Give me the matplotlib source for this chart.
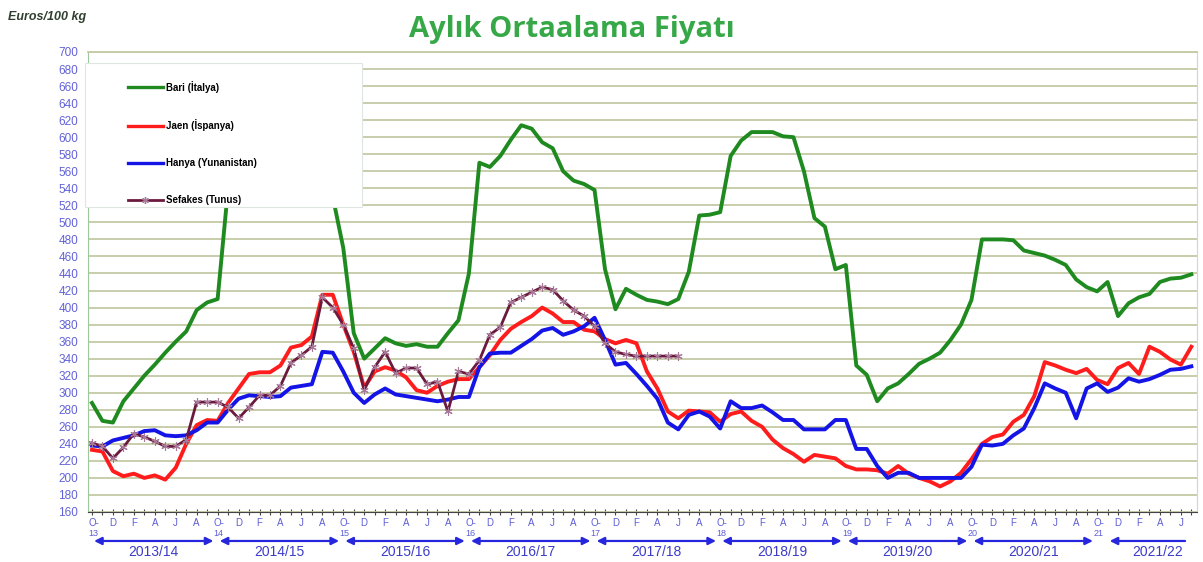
import matplotlib.pyplot as plt
from matplotlib.lines import Line2D
from matplotlib.patches import Rectangle
import matplotlib.transforms as mtransforms

# monthly averages, Oct 2013 .. Jul 2022 (Euros/100 kg)
bari = [288, 267, 265, 290, 305, 320, 333, 347, 360, 372, 397, 406,
        410, 540, 600, 630, 650, 660, 660, 650, 630, 600, 560, 530,
        470, 370, 340, 352, 364, 358, 355, 357, 354, 354, 370, 385,
        440, 570, 565, 578, 597, 614, 610, 594, 587, 560, 549, 545,
        538, 445, 398, 422, 415, 409, 407, 404, 410, 442, 508, 509,
        512, 578, 596, 606, 606, 606, 601, 600, 560, 505, 495, 445,
        450, 332, 321, 290, 305, 311, 322, 334, 340, 347, 362, 380,
        409, 480, 480, 480, 479, 467, 464, 461, 456, 450, 433, 424,
        419, 430, 390, 405, 412, 416, 430, 434, 435, 439]
jaen = [233, 231, 208, 202, 205, 200, 203, 198, 212, 240, 262, 268,
        267, 288, 305, 322, 324, 324, 332, 353, 356, 366, 415, 415,
        380, 348, 306, 325, 330, 326, 318, 303, 300, 308, 313, 316,
        316, 330, 344, 362, 375, 383, 390, 400, 393, 383, 383, 374,
        372, 363, 358, 362, 358, 325, 305, 278, 270, 279, 278, 277,
        266, 275, 278, 267, 260, 245, 235, 228, 219, 227, 225, 223,
        214, 210, 210, 209, 205, 214, 205, 200, 196, 190, 196, 206,
        222, 240, 248, 251, 266, 274, 296, 336, 332, 327, 323, 328,
        315, 310, 329, 335, 322, 354, 348, 339, 333, 354]
hanya = [238, 237, 244, 247, 250, 255, 256, 250, 249, 250, 256, 265,
         265, 280, 293, 297, 296, 295, 296, 306, 308, 310, 348, 347,
         325, 300, 288, 298, 305, 298, 296, 294, 292, 290, 292, 295,
         295, 330, 346, 347, 347, 355, 363, 373, 376, 368, 372, 378,
         388, 362, 333, 335, 322, 308, 293, 265, 257, 274, 278, 272,
         258, 290, 282, 282, 285, 277, 268, 268, 257, 257, 257, 268,
         268, 234, 234, 214, 200, 206, 206, 200, 200, 200, 200, 200,
         213, 239, 238, 240, 250, 258, 282, 311, 305, 300, 270, 305,
         311, 301, 306, 317, 313, 316, 321, 327, 328, 331]
sefakes = [241, 237, 223, 236, 252, 248, 243, 237, 237, 245, 289, 289,
           289, 283, 270, 283, 297, 297, 308, 335, 344, 354, 412, 400,
           380, 352, 303, 330, 348, 323, 329, 329, 310, 313, 278, 325,
           322, 338, 368, 377, 406, 412, 418, 424, 421, 408, 397, 390,
           378, 358, 348, 345, 343, 343, 343, 343, 343]

series_names = ['Bari (İtalya)', 'Jaen (İspanya)', 'Hanya (Yunanistan)', 'Sefakes (Tunus)']
month_letters = ['O-', 'D', 'F', 'A', 'J', 'A']
year_short = ['13', '14', '15', '16', '17', '18', '19', '20', '21']
seasons = ['2013/14', '2014/15', '2015/16', '2016/17', '2017/18',
           '2018/19', '2019/20', '2020/21', '2021/22']

W, H = 1203, 562
fig = plt.figure(figsize=(W / 100, H / 100), dpi=100)
ax = fig.add_axes([88 / W, 1 - 512 / H, 1109 / W, 460 / H])

ax.plot(range(len(bari)), bari, color='#1f8a1f', lw=2.8, zorder=3)
ax.plot(range(len(jaen)), jaen, color='#ff1c1c', lw=2.8, zorder=3)
ax.plot(range(len(hanya)), hanya, color='#1414e6', lw=2.8, zorder=3)
ax.plot(range(len(sefakes)), sefakes, color='#6b1a3e', lw=2.0, zorder=4,
        marker=(6, 2, 0), markersize=6, markeredgecolor='#a87898', markeredgewidth=0.8)

ax.set_ylim(160, 700)
ax.set_xlim(-0.38, 105.54)
ax.set_yticks(range(160, 701, 20))
ax.yaxis.grid(True, color='#c4caa4', lw=1.3)
ax.set_axisbelow(True)
ax.tick_params(axis='y', length=0, pad=7, labelsize=8.5, labelcolor='#6262d8')
for t in ax.get_yticklabels():
    t.set_family('Liberation Sans')

ax.set_xticks(range(106))
ax.set_xticklabels([])
ax.tick_params(axis='x', direction='inout', length=4, width=0.8, color='#444444')

ax.spines['bottom'].set_color('#444444')
ax.spines['left'].set_color('#9cc89c')
ax.spines['top'].set_color('#c4caa4')
ax.spines['top'].set_linewidth(1.3)
ax.spines['right'].set_color('#d4d4d4')

trans = mtransforms.blended_transform_factory(ax.transData, ax.transAxes)
blue_txt = '#5c5cd8'
for i in range(0, 106, 2):
    ax.text(i + (0.15 if i % 12 == 0 else 0), -0.024, month_letters[(i % 12) // 2],
            transform=trans, ha='center', va='center', fontsize=7,
            color=blue_txt, family='Liberation Sans')
for k, ys in enumerate(year_short):
    ax.text(12 * k + 0.1, -0.047, ys, transform=trans, ha='center', va='center',
            fontsize=6.5, color=blue_txt, family='Liberation Sans')

arrow_col = '#2626dc'
for k, s in enumerate(seasons):
    if k < len(seasons) - 1:
        x0, x1, xl, style = 12 * k + 0.2, 12 * k + 11.6, 12 * k + 5.9, '<|-|>'
    else:
        x0, x1, xl, style = 97.2, 104.4, 101.8, '<|-'
    ax.annotate('', xy=(x1, -0.063), xytext=(x0, -0.063), xycoords=trans,
                textcoords=trans, annotation_clip=False,
                arrowprops=dict(arrowstyle=style, color=arrow_col, lw=1.6,
                                mutation_scale=11, shrinkA=0, shrinkB=0))
    ax.text(xl, -0.088, s, transform=trans, ha='center', va='center',
            fontsize=10, color='#3c3cc8', family='Liberation Sans')

# legend box
ax.add_patch(Rectangle((85 / W, 1 - 207 / H), 277 / W, 144 / H, transform=fig.transFigure,
                       facecolor='white', edgecolor='#dfe6df', lw=0.8, zorder=6, clip_on=False))
handles = [Line2D([], [], color='#1f8a1f', lw=2.4),
           Line2D([], [], color='#ff1c1c', lw=2.4),
           Line2D([], [], color='#1414e6', lw=2.4),
           Line2D([], [], color='#6b1a3e', lw=2.0, marker=(6, 2, 0), markersize=5,
                  markeredgecolor='#a87898')]
leg = ax.legend(handles, series_names, loc='upper left', frameon=False,
                bbox_to_anchor=(123 / W, 1 - 76 / H), bbox_transform=fig.transFigure,
                borderpad=0, handlelength=3.6, handletextpad=0.3, labelspacing=2.75,
                prop={'family': 'Liberation Sans', 'size': 7, 'weight': 'bold'})
leg.set_zorder(7)

fig.text(8 / W, 1 - 17 / H, 'Euros/100 kg', style='italic', weight='bold',
         fontsize=9, color='#2f3f2f', va='center', family='Liberation Sans')
fig.text(572 / W, 1 - 29 / H, 'Aylık Ortaalama Fiyatı', ha='center', va='center',
         fontsize=21, weight='bold', color='#36a848', family='Open Sans')

fig.savefig('out.png', dpi=100)
